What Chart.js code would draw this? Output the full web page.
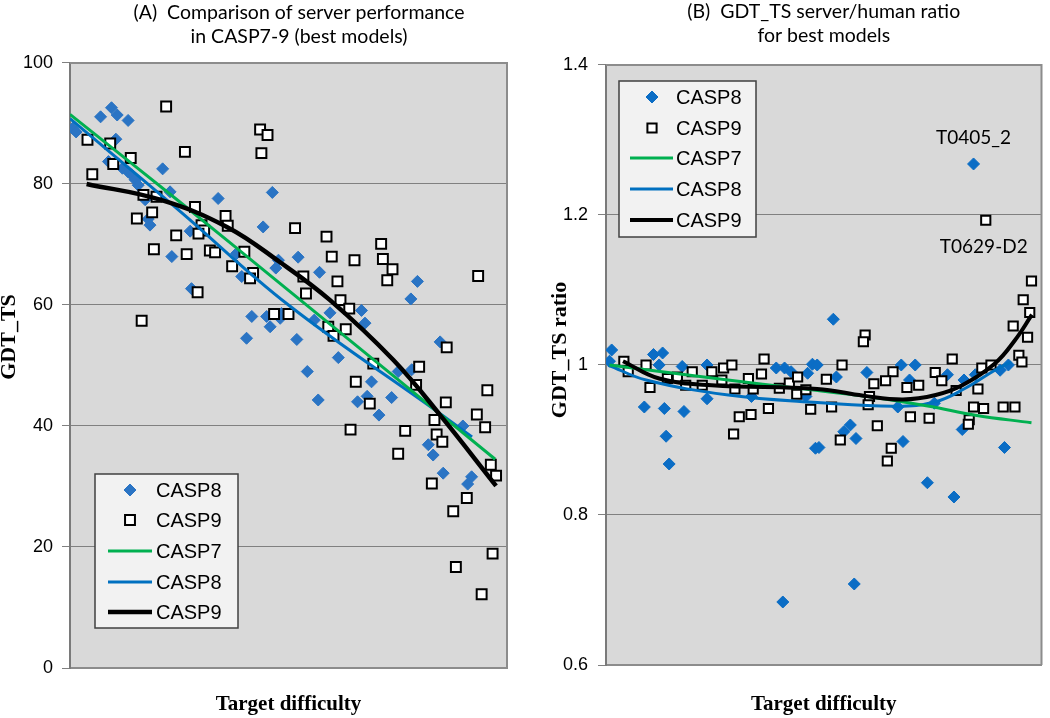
<!DOCTYPE html>
<html>
<head>
<meta charset="utf-8">
<script src="https://cdn.jsdelivr.net/npm/chart.js@4.4.0/dist/chart.umd.min.js"></script>
<style>
  html, body { margin: 0; padding: 0; background: #ffffff; }
  #wrap { position: relative; width: 1050px; height: 718px; overflow: hidden; }
  #cA { position: absolute; left: 0; top: 0; }
  #cB { position: absolute; left: 525px; top: 0; }
</style>
</head>
<body>
<div id="wrap">
  <canvas id="cA" width="598" height="718"></canvas>
  <canvas id="cB" width="525" height="718"></canvas>
</div>
<script>
// ---------------- DATA: panel (A) GDT_TS vs target difficulty ----------------
const titleA = ['(A)  Comparison of server performance', 'in CASP7-9 (best models)'];
const yTitleA = 'GDT_TS';
const xTitle = 'Target difficulty';
const yTicksA = [0, 20, 40, 60, 80, 100];

const a8x = [0.6, 1.4, 7.0, 9.5, 10.8, 13.3, 10.5, 8.8, 12.0, 13.3, 14.1, 14.9, 15.6, 21.2, 22.9, 17.2, 17.9, 18.3, 23.3, 27.5,
             33.9, 27.8, 38.1, 39.3, 44.2, 46.3, 47.7, 47.1, 41.6, 40.4, 45.8, 45.0, 48.1, 52.2, 57.1, 79.5, 78.0, 66.7, 67.5, 59.5,
             55.9, 51.9, 61.4, 84.7, 54.3, 56.8, 65.8, 68.0, 69.0, 70.7, 73.6, 75.1, 78.2, 82.0, 83.1, 85.4, 89.9, 91.9, 91.0, 48.4];
const a8y = [89.2, 88.6, 91.1, 92.6, 91.4, 90.5, 87.4, 83.7, 82.6, 82.0, 81.5, 80.7, 79.8, 82.5, 78.7, 77.4, 74.2, 73.2, 68.0, 72.2,
             77.6, 62.7, 68.5, 64.7, 72.9, 78.6, 67.4, 66.1, 58.1, 54.5, 56.4, 58.1, 57.8, 67.9, 65.4, 63.9, 61.0, 59.1, 57.0, 58.7,
             57.5, 54.3, 51.3, 53.9, 49.0, 44.3, 44.0, 44.9, 47.3, 41.8, 44.7, 49.0, 49.3, 36.9, 35.2, 32.2, 40.0, 31.6, 30.4, 58.6];

const a9x = [22.0, 4.0, 9.2, 5.1, 9.9, 13.9, 26.3, 43.5, 45.2, 43.8, 16.8, 19.8, 15.3, 18.8, 28.6, 35.6, 36.1, 30.1, 30.7, 29.4,
             24.3, 19.2, 26.7, 32.0, 33.2, 39.9, 37.1, 41.9, 41.2, 29.2, 16.4, 46.7, 50.0, 51.5, 58.7, 59.9, 65.1, 71.2, 71.6, 73.8,
             72.6, 93.4, 53.4, 54.0, 61.2, 61.9, 63.9, 59.1, 63.1, 60.3, 86.2, 69.4, 65.4, 68.6, 64.2, 76.7, 75.1, 79.9, 79.2, 86.0,
             83.4, 83.9, 85.2, 82.8, 90.8, 87.7, 95.5, 93.1, 95.0, 96.3, 97.5, 96.7, 88.3, 94.2];
const a9y = [92.8, 87.3, 86.7, 81.6, 83.3, 84.3, 85.3, 89.0, 88.1, 85.1, 78.2, 77.9, 74.3, 75.3, 76.2, 74.7, 73.1, 73.2, 72.3, 71.8,
             71.5, 69.2, 68.4, 69.0, 68.7, 68.8, 66.4, 65.3, 64.4, 62.1, 57.4, 58.5, 58.5, 72.7, 71.3, 68.0, 67.4, 70.1, 67.6, 65.9,
             64.1, 64.8, 64.7, 61.9, 63.9, 60.8, 59.4, 56.4, 56.0, 54.9, 53.0, 50.3, 47.3, 43.7, 39.4, 39.2, 35.4, 49.8, 46.8, 43.9,
             41.0, 38.6, 37.4, 30.5, 28.1, 25.9, 45.9, 41.9, 39.8, 33.6, 31.8, 18.9, 16.7, 12.2];

const a7TrendX = [0, 25, 50, 75, 97.3];
const a7TrendY = [91.5, 77.1, 62.4, 47.7, 34.5];
const a8TrendX = [0, 25, 50, 84, 92];
const a8TrendY = [90.8, 75.6, 60.0, 42.4, 38.2];
const a9TrendX = [3.8, 20.6, 35.9, 48, 59.5, 74, 84.7, 97.5];
const a9TrendY = [80.0, 77.4, 72.9, 67.1, 60.8, 50.9, 41.8, 30.1];

// ---------------- DATA: panel (B) server/human ratio ----------------
const titleB = ['(B)  GDT_TS server/human ratio', 'for best models'];
const yTitleB = 'GDT_TS ratio';
const yTicksB = ['0.6', '0.8', '1', '1.2', '1.4'];

const b8x = [1.3, 0.8, 10.9, 13.0, 12.2, 8.8, 13.4, 17.9, 13.8, 14.5, 23.2, 23.2, 17.5, 39.1, 41.0, 42.5, 47.4, 46.3, 33.4, 48.1,
             52.2, 48.5, 52.9, 45.9, 67.8, 71.0, 59.9, 69.7, 78.4, 82.2, 67.0, 75.4, 84.8, 90.5, 92.4, 56.1, 54.6, 57.4, 48.9, 68.2,
             81.8, 91.5, 73.8, 79.9, 84.4, 40.6, 57.0];
const b8y = [1.020, 1.005, 1.014, 1.016, 1.000, 0.944, 0.942, 0.938, 0.905, 0.868, 1.000, 0.955, 0.998, 0.996, 0.996, 0.991, 1.001, 0.989, 0.958, 0.889,
             1.061, 1.000, 0.984, 0.958, 1.000, 1.000, 0.990, 0.980, 0.987, 0.980, 0.944, 0.949, 0.987, 0.993, 1.000, 0.920, 0.911, 0.902, 0.890, 0.898,
             0.914, 0.890, 0.843, 0.824, 1.268, 0.684, 0.708];

const b9x = [4.1, 5.1, 9.2, 10.1, 14.1, 16.4, 18.3, 19.8, 22.1, 24.3, 27.0, 28.9, 26.6, 29.6, 32.7, 33.8, 35.7, 36.3, 30.6, 33.3,
             37.3, 29.3, 39.8, 42.1, 44.0, 43.8, 45.9, 47.0, 59.5, 59.1, 54.2, 50.6, 51.8, 65.9, 64.2, 61.5, 69.1, 71.8, 60.5, 60.2,
             62.3, 53.8, 65.5, 64.6, 69.9, 74.2, 75.6, 77.1, 79.5, 80.4, 85.4, 86.3, 88.4, 84.4, 86.7, 83.4, 83.2, 91.2, 93.9, 93.5,
             95.8, 97.3, 96.8, 94.8, 95.5, 97.7, 87.2];
const b9y = [1.005, 0.991, 1.000, 0.970, 0.982, 0.984, 0.973, 0.991, 0.973, 0.991, 0.996, 1.000, 0.980, 0.968, 0.982, 0.968, 0.988, 1.008, 0.931, 0.934,
             0.942, 0.908, 0.969, 0.976, 0.984, 0.961, 0.967, 0.941, 1.040, 1.031, 1.000, 0.981, 0.944, 0.991, 0.979, 0.975, 0.970, 0.973, 0.958, 0.947,
             0.919, 0.900, 0.889, 0.872, 0.931, 0.929, 0.990, 0.979, 1.008, 0.966, 0.968, 0.996, 1.000, 0.944, 0.942, 0.927, 0.921, 0.944, 0.944, 1.052,
             1.087, 1.070, 1.037, 1.013, 1.004, 1.112, 1.193];

const b7TrendX = [0.8, 11.5, 28, 44, 60, 74.2, 84.8, 97.7];
const b7TrendY = [1.000, 0.992, 0.980, 0.969, 0.958, 0.945, 0.933, 0.923];
const b8TrendX = [0.5, 9.2, 28.1, 48.5, 66.7, 75.7, 82.5, 89.3, 93.1];
const b8TrendY = [1.000, 0.980, 0.960, 0.950, 0.945, 0.951, 0.969, 0.993, 1.004];
const b9TrendX = [3.9, 12.2, 24.3, 48.5, 59.1, 68.2, 75.7, 81.8, 89.3, 93.9, 97.8];
const b9TrendY = [1.005, 0.982, 0.973, 0.968, 0.959, 0.954, 0.960, 0.973, 1.002, 1.033, 1.067];

const outlierLabels = [
  { text: 'T0405_2', x: 84.4, y: 1.268 },
  { text: 'T0629-D2', x: 87.2, y: 1.193 }
];

// ---------------- helpers ----------------
const zip = (xs, ys) => xs.map((x, i) => ({ x: x, y: ys[i] }));

const plotBg = {
  id: 'plotBg',
  beforeDraw(chart, args, o) {
    const { ctx, chartArea: a } = chart;
    ctx.save();
    ctx.fillStyle = o.color;
    ctx.fillRect(a.left, a.top, a.right - a.left, a.bottom - a.top);
    ctx.restore();
  },
  beforeDatasetsDraw(chart, args, o) {
    const { ctx, chartArea: a } = chart;
    ctx.save();
    ctx.strokeStyle = o.border;
    ctx.lineWidth = o.borderWidth;
    ctx.beginPath();
    ctx.moveTo(a.left, a.top);
    ctx.lineTo(a.right, a.top);
    ctx.lineTo(a.right, a.bottom);
    ctx.stroke();
    ctx.restore();
  }
};

// vertical axis title drawn beside the y axis
const yAxisTitle = {
  id: 'yAxisTitle',
  afterDraw(chart, args, o) {
    const ctx = chart.ctx;
    ctx.save();
    ctx.translate(o.x, o.y);
    ctx.rotate(-Math.PI / 2);
    ctx.font = o.font;
    ctx.fillStyle = '#000000';
    ctx.textAlign = 'center';
    ctx.textBaseline = 'middle';
    ctx.fillText(o.text, 0, 0);
    ctx.restore();
  }
};

const boxLegend = {
  id: 'boxLegend',
  afterDraw(chart, args, o) {
    const ctx = chart.ctx;
    ctx.save();
    ctx.fillStyle = o.fill;
    ctx.fillRect(o.left, o.top, o.width, o.height);
    ctx.strokeStyle = o.border;
    ctx.lineWidth = 1.5;
    ctx.strokeRect(o.left, o.top, o.width, o.height);
    ctx.font = o.font;
    ctx.textBaseline = 'middle';
    ctx.textAlign = 'left';
    o.order.forEach((di, i) => {
      const ds = chart.data.datasets[di];
      const y = o.rows[i];
      if (ds.showLine) {
        ctx.strokeStyle = ds.borderColor;
        ctx.lineWidth = ds.borderWidth;
        ctx.beginPath();
        ctx.moveTo(o.lineX1, y);
        ctx.lineTo(o.lineX2, y);
        ctx.stroke();
      } else {
        ctx.fillStyle = ds.backgroundColor;
        ctx.strokeStyle = ds.borderColor;
        ctx.lineWidth = ds.borderWidth;
        Chart.helpers.drawPoint(ctx, { pointStyle: ds.pointStyle, radius: ds.pointRadius, borderWidth: ds.borderWidth, rotation: 0 }, o.markerX, y);
      }
      ctx.fillStyle = '#000000';
      ctx.fillText(ds.label, o.textX, y + 1);
    });
    ctx.restore();
  }
};

const pointLabels = {
  id: 'pointLabels',
  afterDatasetsDraw(chart, args, o) {
    if (!o.items) return;
    const ctx = chart.ctx;
    const xs = chart.scales.x, ys = chart.scales.y;
    ctx.save();
    ctx.font = o.font;
    ctx.fillStyle = '#000000';
    ctx.textAlign = 'center';
    ctx.textBaseline = 'middle';
    o.items.forEach((it, i) => {
      const off = o.offsets[i];
      ctx.fillText(it.text, xs.getPixelForValue(it.x) + off[0], ys.getPixelForValue(it.y) + off[1]);
    });
    ctx.restore();
  }
};

const titleFont = { family: 'Lato', size: 19.5, weight: 'normal', lineHeight: 1.23 };
const tickFont = { family: 'Liberation Sans', size: 18 };
const xTitleFont = { family: 'Liberation Serif', size: 21, weight: 'bold', lineHeight: 1.2 };
const yTitleFontCss = 'bold 22px "Liberation Serif"';

function makeDatasets(d8x, d8y, d9x, d9y, t7x, t7y, t8x, t8y, t9x, t9y, diamondColor, diamondR, squareR, blackW) {
  return [
    { label: 'CASP8', data: zip(d8x, d8y), pointStyle: 'rectRot', pointRadius: diamondR, pointHoverRadius: diamondR,
      backgroundColor: diamondColor, borderColor: diamondColor, borderWidth: 1, showLine: false, order: 3 },
    { label: 'CASP9', data: zip(d9x, d9y), pointStyle: 'rect', pointRadius: squareR, pointHoverRadius: squareR,
      backgroundColor: '#ffffff', borderColor: '#000000', borderWidth: 2, showLine: false, order: 2 },
    { label: 'CASP7', data: zip(t7x, t7y), showLine: true, pointRadius: 0, borderColor: '#00b050', backgroundColor: '#00b050',
      borderWidth: 3, tension: 0.4, order: 1 },
    { label: 'CASP8', data: zip(t8x, t8y), showLine: true, pointRadius: 0, borderColor: '#0070c0', backgroundColor: '#0070c0',
      borderWidth: 3, tension: 0.4, order: 1 },
    { label: 'CASP9', data: zip(t9x, t9y), showLine: true, pointRadius: 0, borderColor: '#000000', backgroundColor: '#000000',
      borderWidth: blackW, tension: 0.4, order: 0 }
  ];
}

// ---------------- Chart A ----------------
new Chart(document.getElementById('cA'), {
  type: 'scatter',
  data: { datasets: makeDatasets(a8x, a8y, a9x, a9y, a7TrendX, a7TrendY, a8TrendX, a8TrendY, a9TrendX, a9TrendY, '#2a74c4', 6, 7, 4.5) },
  options: {
    responsive: false, animation: false, devicePixelRatio: 1,
    layout: { padding: 0 },
    plugins: {
      legend: { display: false }, tooltip: { enabled: false },
      title: { display: true, text: titleA, color: '#000000', font: titleFont, padding: { top: 1, bottom: 14 } },
      plotBg: { color: '#d9d9d9', border: '#8c8c8c', borderWidth: 2 },
      yAxisTitle: { text: yTitleA, x: 9, y: 337, font: yTitleFontCss },
      boxLegend: { left: 95, top: 474, width: 143, height: 154, fill: '#f2f2f2', border: '#404040',
                   font: '20px "Liberation Sans"', order: [0, 1, 2, 3, 4], rows: [490, 520, 551, 582, 612],
                   markerX: 130, lineX1: 108, lineX2: 152, textX: 156 }
    },
    scales: {
      x: { type: 'linear', min: 0, max: 100,
           ticks: { display: false }, grid: { display: false },
           border: { display: true, color: '#8c8c8c', width: 2 },
           title: { display: true, text: xTitle, color: '#000000', font: xTitleFont, padding: { top: 0, bottom: 0.4 } },
           afterFit(s) { s.height = 50; } },
      y: { type: 'linear', min: 0, max: 100,
           afterBuildTicks(s) { s.ticks = yTicksA.map(v => ({ value: v })); },
           ticks: { color: '#000000', font: tickFont, padding: 9 },
           grid: { color: '#808080', lineWidth: 1, tickLength: 8, drawTicks: true },
           border: { display: true, color: '#7a7a7a', width: 2 },
           title: { display: false },
           afterFit(s) { s.width = 70; } },
      // empty right-hand spacer axis (keeps the plot narrower than the title band)
      ySpacer: { type: 'linear', position: 'right', min: 0, max: 100, display: true,
                 ticks: { display: false }, grid: { display: false, drawTicks: false }, border: { display: false },
                 afterFit(s) { s.width = 91; } }
    }
  },
  plugins: [plotBg, yAxisTitle, boxLegend]
});

// ---------------- Chart B ----------------
new Chart(document.getElementById('cB'), {
  type: 'scatter',
  data: { datasets: makeDatasets(b8x, b8y, b9x, b9y, b7TrendX, b7TrendY, b8TrendX, b8TrendY, b9TrendX, b9TrendY, '#0b6dc5', 6, 6.5, 4) },
  options: {
    responsive: false, animation: false, devicePixelRatio: 1,
    layout: { padding: { left: 0, right: 3, top: 0, bottom: 0 } },
    plugins: {
      legend: { display: false }, tooltip: { enabled: false },
      title: { display: true, text: titleB, color: '#000000', font: titleFont, fullSize: false, padding: { top: 0, bottom: 17 } },
      plotBg: { color: '#d9d9d9', border: '#8c8c8c', borderWidth: 2 },
      yAxisTitle: { text: yTitleB, x: 35, y: 350, font: yTitleFontCss },
      boxLegend: { left: 94, top: 81, width: 137, height: 156, fill: '#f2f2f2', border: '#404040',
                   font: '20px "Liberation Sans"', order: [0, 1, 2, 3, 4], rows: [97, 128, 158, 189, 220],
                   markerX: 127, lineX1: 105, lineX2: 148, textX: 151 },
      pointLabels: { items: outlierLabels, offsets: [[0, -26], [-2, 27]], font: '19px Lato' }
    },
    scales: {
      x: { type: 'linear', min: 0, max: 100,
           ticks: { display: false }, grid: { display: false },
           border: { display: true, color: '#8c8c8c', width: 2 },
           title: { display: true, text: xTitle, color: '#000000', font: xTitleFont, padding: { top: 0, bottom: 0.4 } },
           afterFit(s) { s.height = 53; } },
      y: { type: 'linear', min: 0.6, max: 1.4,
           afterBuildTicks(s) { s.ticks = yTicksB.map(v => ({ value: parseFloat(v) })); },
           ticks: { color: '#000000', font: tickFont, padding: 10,
                    callback: (v) => yTicksB.find(t => Math.abs(parseFloat(t) - v) < 1e-9) },
           grid: { color: '#808080', lineWidth: 1, tickLength: 8, drawTicks: true },
           border: { display: true, color: '#7a7a7a', width: 2 },
           title: { display: false },
           afterFit(s) { s.width = 81; } }
    }
  },
  plugins: [plotBg, yAxisTitle, boxLegend, pointLabels]
});
</script>
</body>
</html>
